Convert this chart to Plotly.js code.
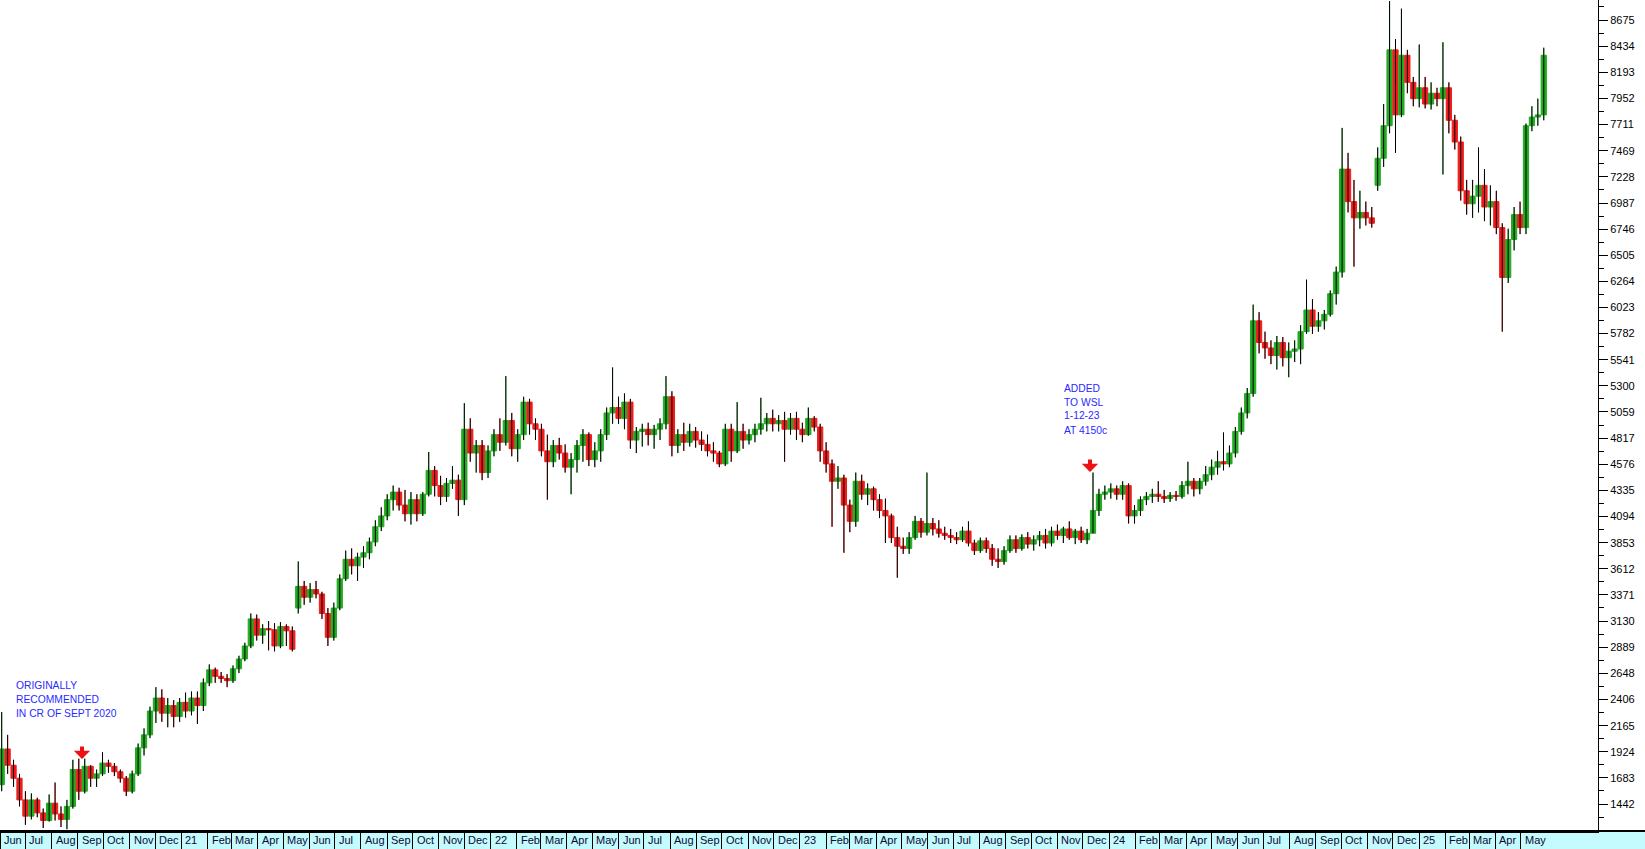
<!DOCTYPE html>
<html><head><meta charset="utf-8">
<script src="https://cdn.plot.ly/plotly-3.0.1.min.js"></script>
<style>html,body{margin:0;padding:0;background:#fff;overflow:hidden}#chart{width:1645px;height:849px}</style>
</head><body><div id="chart"></div>
<script>
// weekly candles, first week centred on Wed 3 Jun 2020
const firstWeek = '2020-06-03';
const openP = [1620,1950,1800,1680,1480,1330,1480,1360,1290,1450,1350,1300,1420,1760,1560,1790,1680,1720,1820,1790,1740,1680,1560,1720,1960,2080,2300,2420,2280,2350,2250,2380,2300,2420,2350,2560,2680,2620,2600,2580,2690,2780,2900,3150,3000,3060,3050,2900,3080,3040,3250,3450,3350,3420,3380,3200,2980,3250,3520,3700,3640,3720,3760,3860,4000,4100,4250,4320,4200,4120,4250,4120,4300,4520,4380,4280,4400,4430,4250,4900,4680,4750,4500,4700,4850,4780,4980,4720,4850,5150,4950,4900,4700,4600,4750,4680,4550,4620,4750,4850,4620,4700,4850,5050,5100,5000,5150,4800,4880,4900,4850,4900,4950,5200,4750,4850,4780,4880,4800,4760,4700,4680,4580,4900,4700,4880,4800,4850,4900,4950,5000,4950,4980,4900,5000,4900,4850,5000,4920,4700,4580,4420,4450,4200,4050,4420,4300,4350,4250,4150,4100,3900,3820,3800,3900,4050,3950,4030,3980,3940,3920,3900,3880,3960,3850,3780,3870,3800,3700,3680,3780,3880,3800,3900,3840,3880,3920,3850,3960,3920,3980,3900,3960,3880,3940,4150,4300,4320,4350,4300,4380,4100,4150,4250,4280,4300,4280,4260,4290,4280,4380,4420,4350,4420,4480,4550,4600,4580,4680,4880,5050,5230,5900,5700,5650,5580,5700,5560,5620,5640,5800,6000,5850,5900,5960,6150,6350,7300,7000,6850,6900,6850,7150,7400,7700,8400,7800,8350,8100,7950,8050,7900,8000,7950,8050,7750,7550,7100,6980,7050,7150,6950,7000,6760,6300,6650,6880,6760,7700,7780,7800];
const highP = [2290,2080,1850,1720,1560,1540,1500,1400,1530,1640,1420,1480,1850,1860,1860,1800,1760,1920,1850,1820,1760,1700,1750,2000,2140,2340,2520,2500,2420,2400,2420,2470,2480,2480,2600,2730,2700,2660,2640,2720,2810,2930,3200,3190,3100,3130,3110,3120,3100,3080,3680,3500,3480,3500,3400,3250,3300,3560,3780,3800,3760,3820,3900,4060,4180,4300,4380,4360,4340,4320,4300,4320,4690,4560,4470,4450,4560,4480,5140,5000,4800,4800,4750,4900,5000,5390,5050,4900,5200,5180,5000,4950,4850,4800,4820,4760,4680,4800,4900,4870,4780,4900,5100,5470,5200,5230,5180,4920,4950,4960,4940,5000,5390,5250,4900,4960,4950,4920,4880,4850,4780,4700,4950,4950,5150,4950,4900,4950,5190,5050,5080,5030,5060,5050,5060,4960,5100,5020,4950,4780,4620,4560,4480,4250,4500,4480,4400,4370,4300,4260,4120,4000,3900,3950,4100,4080,4500,4080,4060,4000,3980,3950,4000,4050,3880,3900,3900,3840,3800,3820,3920,3920,3930,3950,3920,3960,3980,4000,4020,4000,4050,3980,4000,3980,4500,4350,4380,4400,4380,4420,4400,4200,4280,4320,4350,4420,4340,4320,4330,4420,4600,4450,4450,4560,4620,4700,4870,4750,4920,5100,5280,6050,5980,5800,5720,5760,5750,5700,5720,5860,6280,6100,5980,6000,6180,6400,7680,7450,7200,7100,7000,6950,7500,7900,8850,8500,8780,8400,8150,8450,8150,8100,8050,8470,8100,7800,7600,7200,7200,7500,7300,7150,7100,6800,6750,6950,7000,7720,7880,7950,8420];
const lowP = [1560,1720,1600,1420,1250,1300,1320,1220,1280,1290,1230,1210,1400,1480,1540,1600,1600,1700,1730,1700,1640,1515,1540,1700,1890,2050,2190,2200,2150,2150,2200,2240,2260,2180,2300,2530,2560,2560,2520,2560,2650,2760,2880,2950,2920,2860,2850,2880,2900,2850,3200,3280,3300,3340,3150,2900,2950,3230,3500,3560,3500,3620,3700,3820,3960,4060,4150,4150,4050,4020,4050,4100,4280,4280,4200,4230,4350,4100,4200,4600,4500,4430,4450,4650,4700,4750,4650,4600,4800,4850,4800,4650,4250,4550,4620,4500,4300,4500,4600,4560,4550,4600,4800,4950,4950,4900,4720,4680,4740,4750,4720,4800,4900,4650,4680,4700,4740,4730,4700,4650,4600,4550,4560,4600,4680,4720,4760,4780,4850,4880,4880,4880,4600,4850,4800,4780,4840,4880,4600,4500,4000,4350,3760,3950,4000,4250,4200,4150,4080,3850,3850,3530,3750,3750,3880,3900,3920,3920,3900,3880,3850,3840,3860,3820,3740,3760,3760,3640,3620,3650,3760,3760,3780,3800,3780,3820,3800,3820,3880,3850,3880,3840,3850,3840,3940,4100,4250,4260,4250,4250,4030,4030,4100,4200,4220,4230,4220,4230,4240,4260,4300,4280,4300,4380,4430,4480,4520,4550,4640,4850,5000,5200,5600,5550,5500,5450,5480,5380,5520,5500,5780,5780,5800,5820,5940,6050,6300,6900,6400,6750,6780,6760,7100,7320,7630,7450,7780,8000,7880,7870,7860,7850,7880,7250,7630,7480,7010,6880,6850,6900,6820,6780,6700,5800,6250,6550,6700,6700,7650,7700,7750];
const closeP = [1950,1800,1680,1480,1330,1480,1360,1290,1450,1350,1300,1420,1760,1560,1790,1680,1720,1820,1790,1740,1680,1560,1720,1960,2080,2300,2420,2280,2350,2250,2380,2300,2420,2350,2560,2680,2620,2600,2580,2690,2780,2900,3150,3000,3060,3050,2900,3080,3040,2870,3450,3350,3420,3380,3200,2980,3250,3520,3700,3640,3720,3760,3860,4000,4100,4250,4320,4200,4120,4250,4120,4300,4520,4380,4280,4400,4430,4250,4900,4680,4750,4500,4700,4850,4780,4980,4720,4850,5150,4950,4900,4700,4600,4750,4680,4550,4620,4750,4850,4620,4700,4850,5050,5100,5000,5150,4800,4880,4900,4850,4900,4950,5200,4750,4850,4780,4880,4800,4760,4700,4680,4580,4900,4700,4880,4800,4850,4900,4950,5000,4950,4980,4900,5000,4900,4850,5000,4920,4700,4580,4420,4450,4200,4050,4420,4300,4350,4250,4150,4100,3900,3820,3800,3900,4050,3950,4030,3980,3940,3920,3900,3880,3960,3850,3780,3870,3800,3700,3680,3780,3880,3800,3900,3840,3880,3920,3850,3960,3920,3980,3900,3960,3880,3940,4150,4300,4320,4350,4300,4380,4100,4150,4250,4280,4300,4280,4260,4290,4280,4380,4420,4350,4420,4480,4550,4600,4580,4680,4880,5050,5230,5900,5700,5650,5580,5700,5560,5620,5640,5800,6000,5850,5900,5960,6150,6350,7300,7000,6850,6900,6850,6800,7400,7700,8400,7800,8350,8100,7950,8050,7900,8000,7950,8050,7750,7550,7100,6980,7050,7150,6950,7000,6760,6300,6650,6880,6760,7700,7780,7800,8350];

const yTickLabels = ['1442','1683','1924','2165','2406','2648','2889','3130','3371','3612','3853','4094','4335','4576','4817','5059','5300','5541','5782','6023','6264','6505','6746','6987','7228','7469','7711','7952','8193','8434','8675'];
const monthAbbr = ['Jan','Feb','Mar','Apr','May','Jun','Jul','Aug','Sep','Oct','Nov','Dec'];
const firstMonth = [2020, 5];  // June 2020
const lastMonth = [2025, 4];   // May 2025
const noteRecommended = ['ORIGINALLY', 'RECOMMENDED', 'IN CR OF SEPT 2020'];
const noteAdded = ['ADDED', 'TO WSL', '1-12-23', 'AT 4150c'];

const n = Math.min(openP.length, highP.length, lowP.length, closeP.length);
const t0 = Date.parse(firstWeek + 'T00:00:00Z');
const dates = [];
for (let i = 0; i < n; i++) dates.push(new Date(t0 + i * 7 * 86400000).toISOString().slice(0, 10));

const wx = [], wy = [];
for (let i = 0; i < n; i++) { wx.push(dates[i], dates[i], null); wy.push(highP[i], lowP[i], null); }

const monthStarts = [], monthText = [];
for (let y = firstMonth[0], m = firstMonth[1]; y < lastMonth[0] || (y === lastMonth[0] && m <= lastMonth[1]);) {
  monthStarts.push(y + '-' + String(m + 1).padStart(2, '0') + '-01');
  monthText.push(m === 0 ? String(y).slice(2) : monthAbbr[m]);
  m++; if (m > 11) { m = 0; y++; }
}

const yVals = yTickLabels.map(Number);
const yMinor = [];
for (let i = 0; i < yVals.length - 1; i++) yMinor.push((yVals[i] + yVals[i + 1]) / 2);
yMinor.push(yVals[yVals.length - 1] + (yVals[1] - yVals[0]) / 2);
yMinor.unshift(yVals[0] - (yVals[1] - yVals[0]) / 2);

const W = 1645, H = 849, ML = 0, MR = 47, MT = 0, MB = 18;
const PW = W - ML - MR, PH = H - MT - MB;
const px = v => v / PW, py = v => (PH - v) / PH;

const font = 'Liberation Sans, Arial, sans-serif';
const annotations = [];
monthStarts.forEach((d, i) => annotations.push({
  x: d, xref: 'x', y: -9 / PH, yref: 'paper', xanchor: 'left', yanchor: 'middle', xshift: 2,
  text: monthText[i], showarrow: false, font: {family: font, size: 11, color: '#0a0a30'}
}));
noteRecommended.forEach((t, i) => annotations.push({x: px(14), y: py(685 + i * 14), xref: 'paper', yref: 'paper',
  xanchor: 'left', yanchor: 'middle', text: t, showarrow: false, font: {family: font, size: 10.3, color: '#2a2aff'}}));
noteAdded.forEach((t, i) => annotations.push({x: px(1062), y: py(388 + i * 14), xref: 'paper', yref: 'paper',
  xanchor: 'left', yanchor: 'middle', text: t, showarrow: false, font: {family: font, size: 10.3, color: '#2a2aff'}}));
[[82, 759], [1090, 472]].forEach(p => annotations.push({x: px(p[0]), y: py(p[1]), xref: 'paper', yref: 'paper', text: '',
  showarrow: true, arrowhead: 1, arrowsize: 0.68, arrowwidth: 4, arrowcolor: '#ee1111', ax: 0, ay: -14}));

const traces = [
  {type: 'candlestick', x: dates.slice(0, n), open: openP, high: highP, low: lowP, close: closeP,
   increasing: {line: {color: '#22aa22', width: 1}, fillcolor: '#22aa22'},
   decreasing: {line: {color: '#ee1c1c', width: 1}, fillcolor: '#ee1c1c'},
   whiskerwidth: 0, hoverinfo: 'skip'},
  {type: 'scatter', mode: 'lines', x: wx, y: wy, line: {color: '#000', width: 1}, hoverinfo: 'skip', connectgaps: false}
];

const layout = {
  width: W, height: H, margin: {l: ML, r: MR, t: MT, b: MB, pad: 0},
  paper_bgcolor: '#fff', plot_bgcolor: '#fff', showlegend: false, hovermode: false,
  boxgap: 0.12, boxgroupgap: 0,
  xaxis: {type: 'date', range: ['2020-06-01', '2025-07-31'], rangeslider: {visible: false},
    tickvals: monthStarts, showticklabels: false, ticks: 'outside', ticklen: 17, tickwidth: 1, tickcolor: '#000',
    showgrid: false, zeroline: false, showline: true, linecolor: '#000', linewidth: 2, fixedrange: true},
  yaxis: {side: 'right', range: [1193, 8860], tickvals: yVals, ticktext: yTickLabels, ticks: 'outside', ticklen: 9,
    tickwidth: 1, tickcolor: '#000', showgrid: false, zeroline: false, showline: true, linecolor: '#000', linewidth: 1,
    tickfont: {family: font, size: 11, color: '#000'},
    minor: {tickvals: yMinor, ticks: 'outside', ticklen: 5, tickwidth: 1, tickcolor: '#000', showgrid: false},
    fixedrange: true},
  shapes: [
    {type: 'rect', xref: 'paper', yref: 'paper', x0: 0, x1: W / PW, y0: -MB / PH, y1: 0, fillcolor: '#c4fbff', line: {width: 0}, layer: 'below'},
    {type: 'line', xref: 'paper', yref: 'paper', x0: 0, x1: W / PW, y0: 0, y1: 0, line: {color: '#000', width: 2}, layer: 'above'}
  ],
  annotations: annotations
};

Plotly.newPlot('chart', traces, layout, {staticPlot: true, displayModeBar: false});
</script>
</body></html>
